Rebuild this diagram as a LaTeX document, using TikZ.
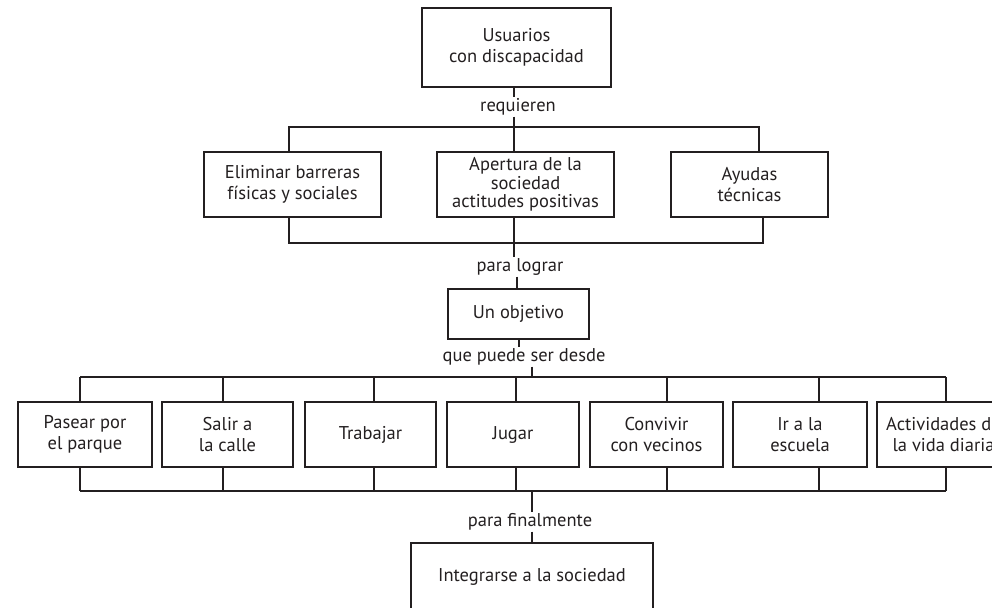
\documentclass[tikz,border=0pt]{standalone}
\usepackage{fontspec}
\setmainfont{PT Sans}
\usetikzlibrary{positioning,calc}
\definecolor{ink}{HTML}{231F20}
\tikzset{caja/.style={draw=ink,line width=1.2pt,align=center,inner sep=0pt,text=ink,
    font=\fontsize{18.5}{21}\selectfont},
  enlace/.style={inner sep=1pt,text=ink,font=\fontsize{18.5}{21}\selectfont},
  linea/.style={draw=ink,line width=1.2pt}}

\begin{document}
\begin{tikzpicture}[x=1pt,y=-1pt]
    \useasboundingbox (0,0) rectangle (992,607);
    % cabeza
    \node[caja,minimum width=189,minimum height=79] (usu) at (516.5,47.5) {Usuarios\\con discapacidad};
    \node[enlace] (req) at (518,107) {requieren};
    \node[caja,minimum width=177,minimum height=65] (elim) at (292.5,184.5) {Eliminar barreras\\físicas y sociales};
    \node[caja,minimum width=177,minimum height=65,font=\fontsize{18.5}{18.5}\selectfont] (aper) at (525.5,184.5) {Apertura de la\\sociedad\\actitudes positivas};
    \node[caja,minimum width=157,minimum height=65] (ayu) at (749.5,184.5) {Ayudas\\técnicas};
    \node[enlace] (plog) at (520,267) {para lograr};
    \node[caja,minimum width=141,minimum height=50] (obj) at (518.5,314) {Un objetivo};
    \node[enlace] (qps) at (524,357) {que puede ser desde};
    \node[enlace] (pfin) at (530,522) {para finalmente};
    \node[caja,minimum width=242,minimum height=68] (int) at (532,577) {Integrarse a la sociedad};

    \coordinate (t1) at (289,127); \coordinate (t2) at (514,127); \coordinate (t3) at (759,127);
    \coordinate (u1) at (289,243); \coordinate (u2) at (514,243); \coordinate (u3) at (763,243);
    \coordinate (v1) at (517,0); \coordinate (v2) at (519,0);
    \coordinate (w1) at (532,377); \coordinate (w2) at (532,491);

    \draw[linea] (usu.south -| t2) -- (req.north -| t2);
    \draw[linea] (req.south -| t2) -- (t2) -- (t2 |- aper.north);
    \draw[linea] (elim.north -| t1) -- (t1) -- (t3) -- (ayu.north -| t3);
    \draw[linea] (elim.south -| u1) -- (u1) -- (u3) -- (ayu.south -| u3);
    \draw[linea] (aper.south -| u2) -- (u2) -- (plog.north -| u2);
    \draw[linea] (plog.south -| v1) -- (obj.north -| v1);
    \draw[linea] (obj.south -| v2) -- (qps.north -| v2);
    \draw[linea] (qps.south -| w1) -- (w1);
    \draw[linea] (w2) -- (pfin.north -| w2);
    \draw[linea] (pfin.south -| w2) -- (int.north -| w2);

    % actividades
    \foreach \n/\cx/\w/\lx/\txt in {pas/85/134/80/{Pasear por\\el parque},sal/227.5/131/223/{Salir a\\la calle},
        tra/370.5/131/374/{Trabajar},jug/513/132/516/{Jugar},con/656.5/133/667/{Convivir\\con vecinos},
        ir/800/134/819/{Ir a la\\escuela},act/943.5/133/946/{Actividades de\\la vida diaria}}{
      \node[caja,minimum width=\w,minimum height=65] (\n) at (\cx,434.5) {\txt};
      \coordinate (a\n) at (\lx,377);
      \coordinate (b\n) at (\lx,491);
      \draw[linea] (a\n) -- (a\n |- \n.north);
      \draw[linea] (\n.south -| b\n) -- (b\n);
    }
    \draw[linea] (apas) -- (aact);
    \draw[linea] (bpas) -- (bact);
  \end{tikzpicture}
\end{document}
